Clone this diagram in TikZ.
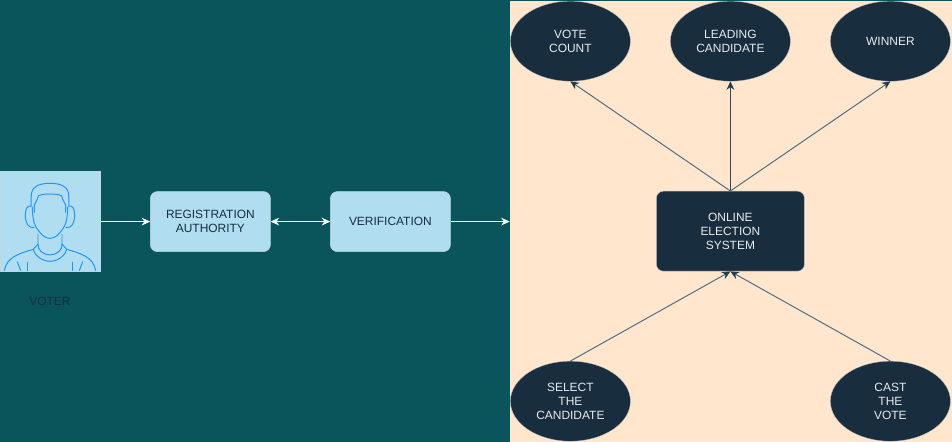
\documentclass[tikz,border=0pt]{standalone}
\usepackage{fontspec}
\setmainfont{Liberation Sans}
\usetikzlibrary{shapes.geometric, arrows.meta}
\definecolor{tealbg}{RGB}{9,85,91}
\definecolor{peachbg}{RGB}{255,230,204}
\definecolor{darknavy}{RGB}{24,46,62}
\definecolor{lightblue}{RGB}{177,221,240}
\definecolor{iconblue}{RGB}{33,150,243}
\definecolor{arrowblue}{RGB}{80,110,130}
\begin{document}
\begin{tikzpicture}[
 lightbox/.style={draw=white!50!lightblue!90!black, fill=lightblue, rounded corners=5pt, minimum width=3cm, minimum height=1.5cm, text=darknavy, font=\fontsize{8.5}{10}\selectfont, align=center, inner sep=0pt},
 darkbox/.style={draw=white!70!darknavy, line width=0.3pt, fill=darknavy, rounded corners=5pt, minimum width=3.7cm, minimum height=2cm, text=white!90!darknavy, font=\fontsize{8.5}{10}\selectfont, align=center, inner sep=0pt},
 outcome/.style={ellipse, draw=white!70!darknavy, line width=0.2pt, fill=darknavy, minimum width=3cm, minimum height=2cm, text=white!90!darknavy, font=\fontsize{8.5}{10}\selectfont, align=center, inner sep=0pt},
 whitearrow/.style={draw=white, line width=0.5pt, -{Stealth[length=6pt,width=5.5pt]}},
 navyarrow/.style={draw=arrowblue, line width=0.7pt, -{Stealth[length=6pt,width=5.5pt,color=darknavy!80!arrowblue]}},
 iconline/.style={draw=iconblue, line width=0.7pt}]
 \useasboundingbox (0,0) rectangle (23.8,11.05);
 \fill[tealbg] (0,0) rectangle (23.8,11.05);
 % right side
 \node[fill=peachbg, minimum width=11.06cm, minimum height=11.02cm, inner sep=0pt, outer sep=0pt, anchor=south west] (panel) at (12.74,0){};
 \node[outcome] (votecount) at (14.26,10.02){VOTE\\COUNT};
 \node[outcome] (leading) at (18.26,10.02){LEADING\\CANDIDATE};
 \node[outcome] (winner) at (22.26,10.02){WINNER};
 \node[darkbox] (system) at (18.26,5.27){ONLINE\\ELECTION\\SYSTEM};
 \node[outcome] (select) at (14.26,1.02){SELECT\\THE\\CANDIDATE};
 \node[outcome] (cast) at (22.26,1.02){CAST\\THE\\VOTE};
 % left side
 \node[draw=white!50!lightblue!90!black, fill=lightblue, minimum size=2.5cm, inner sep=0pt, anchor=north west] (voter) at (0,6.775){};
 \node[font=\fontsize{8.5}{10}\selectfont, text=darknavy] (voterlabel) at (1.25,3.525){VOTER};
 \node[lightbox] (registration) at (5.26,5.51){REGISTRATION\\AUTHORITY};
 \node[lightbox] (verification) at (9.76,5.51){VERIFICATION};
 % person
 \begin{scope}[shift={(1.25,7.05)}, x=0.00833cm, y=-0.00833cm]
  \foreach \s in {1,-1}{
   \draw[iconline] (0,70) .. controls (\s*32,70) and (\s*52,80) .. (\s*55,97) .. controls (\s*57,110) and (\s*57,125) .. (\s*57,140);
   \draw[iconline] (0,102) .. controls (\s*12,102) and (\s*28,103) .. (\s*35,108) .. controls (\s*38,122) and (\s*45,128) .. (\s*47,135) -- (\s*47,158);
   \draw[iconline] (\s*53,140) .. controls (\s*53,185) and (\s*45,200) .. (\s*30,218) .. controls (\s*20,230) and (\s*10,235) .. (0,235);
   \draw[iconline] (\s*55,138) .. controls (\s*70,135) and (\s*74,150) .. (\s*74,165) .. controls (\s*74,190) and (\s*65,205) .. (\s*47,203);
   \draw[iconline] (\s*36,222) -- (\s*36,252) .. controls (\s*38,270) and (\s*20,285) .. (0,285);
   \draw[iconline] (\s*36,252) -- (\s*50,268) .. controls (\s*45,290) and (\s*20,304) .. (0,304);
   \draw[iconline] (\s*50,268) .. controls (\s*90,280) and (\s*130,290) .. (\s*137,332);
   \draw[iconline] (\s*98,305) -- (\s*88,332);
   \draw[iconline] (\s*68,305) -- (\s*68,332);
  }
 \end{scope}
 % connectors
 \draw[whitearrow] (voter.east |- registration.west) -- (registration.west);
 \draw[whitearrow, {Stealth[length=6pt,width=5.5pt]}-{Stealth[length=6pt,width=5.5pt]}] (registration) -- (verification);
 \draw[whitearrow] (verification) -- (verification -| panel.west);
 \draw[navyarrow] (system.north) -- (votecount.south);
 \draw[navyarrow, draw=arrowblue!40!darknavy] (system.north) -- (leading.south);
 \draw[navyarrow] (system.north) -- (winner.south);
 \draw[navyarrow] (select.north) -- (system.south);
 \draw[navyarrow] (cast.north) -- (system.south);
\end{tikzpicture}
\end{document}
